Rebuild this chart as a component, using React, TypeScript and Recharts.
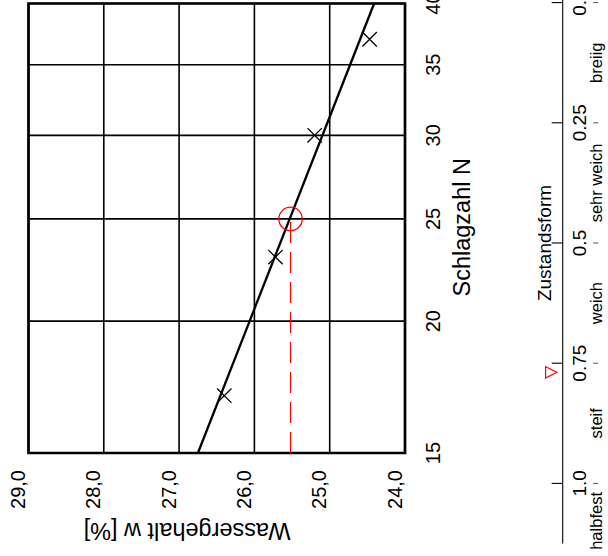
import React from 'react';
import { ComposedChart, Scatter, Line, XAxis, YAxis, CartesianGrid, ReferenceArea, Label } from 'recharts';

// Main diagram (Fließgrenze): Schlagzahl N vs Wassergehalt w
const nTicks = [15, 20, 25, 30, 35, 40];
const wTicks = [24, 25, 26, 27, 28, 29];
const wTickLabels = ['24,0', '25,0', '26,0', '27,0', '28,0', '29,0'];
const measuredN = [17, 23, 30, 37];
const measuredW = [26.4, 25.72, 25.2, 24.47];
const fitN = [15, 40];
const fitW = [26.75, 24.41];
const liquidLimitN = 25;
const liquidLimitW = 25.52;
const dropN = [15, 25];

// Zustandsform axis
const icTicks = [0, 0.25, 0.5, 0.75, 1.0];
const icTickLabels = ['0.0', '0.25', '0.5', '0.75', '1.0'];
const stateNames = ['breiig', 'sehr weich', 'weich', 'steif', 'halbfest'];
const statePositions = [0.125, 0.375, 0.625, 0.875, 1.078];
const consistencyIndex = 0.769;

const FONT = 'Liberation Sans, Arial, Helvetica, sans-serif';

const measuredData = measuredN.map((N, i) => ({ N, w: measuredW[i] }));
const fitData = fitN.map((N, i) => ({ N, w: fitW[i] }));
const llData = [{ N: liquidLimitN, w: liquidLimitW }];
const dropData = dropN.map((N) => ({ N, w: liquidLimitW }));
const icData = [{ ic: consistencyIndex, y: 0 }];

const NTick = (props: any) => {
  const { x, y, payload } = props;
  return (
    <text x={x} y={y + 35} textAnchor="middle" fontSize={20} fontFamily={FONT} fill="#000">
      {payload.value}
    </text>
  );
};

const WTick = (props: any) => {
  const { x, y, payload } = props;
  const idx = wTicks.indexOf(payload.value);
  return (
    <text x={x - 17} y={y - 3.5} textAnchor="end" fontSize={20} fontFamily={FONT} fill="#000">
      {idx >= 0 ? wTickLabels[idx] : payload.value}
    </text>
  );
};

const XTitle = (props: any) => {
  const vb = props.viewBox || { x: 0, y: 0, width: 0, height: 0 };
  const cx = vb.x + vb.width / 2 + 1;
  return (
    <text x={cx} y={vb.y + 65} textAnchor="middle" fontSize={23.5} fontFamily={FONT} fill="#000">
      Schlagzahl N
    </text>
  );
};

const YTitle = (props: any) => {
  const vb = props.viewBox || { x: 0, y: 0, width: 0, height: 0 };
  const tx = vb.x - 10;
  const ty = vb.y + 158.5;
  return (
    <text
      x={tx}
      y={ty}
      textAnchor="middle"
      fontSize={23.5}
      fontFamily={FONT}
      fill="#000"
      transform={`rotate(-90, ${tx}, ${ty})`}
    >
      Wassergehalt w [%]
    </text>
  );
};

const Cross = (props: any) => {
  const { cx, cy } = props;
  const s = 7.2;
  return (
    <path
      d={`M${cx - s},${cy - s}L${cx + s},${cy + s}M${cx - s},${cy + s}L${cx + s},${cy - s}`}
      stroke="#000"
      strokeWidth={1.3}
      fill="none"
    />
  );
};

const RedCircle = (props: any) => {
  const { cx, cy } = props;
  return <circle cx={cx} cy={cy} r={11.7} stroke="#ff0000" strokeWidth={1.3} fill="none" />;
};

const Triangle = (props: any) => {
  const { cx, cy } = props;
  const h = 5.7;
  return (
    <path
      d={`M${cx - h},${cy - h}L${cx + h},${cy - h}L${cx},${cy + h}Z`}
      stroke="#ff0000"
      strokeWidth={1.2}
      fill="none"
    />
  );
};

const IcTick = (props: any) => {
  const { x, y, payload } = props;
  const idx = icTicks.indexOf(payload.value);
  return (
    <g>
      <line x1={x} y1={y} x2={x} y2={y - 11} stroke="#000" strokeWidth={1.1} />
      <text x={x} y={y + 23.3} textAnchor="middle" fontSize={19} fontFamily={FONT} fill="#000">
        {idx >= 0 ? icTickLabels[idx] : payload.value}
      </text>
      <line x1={x} y1={y + 30.5} x2={x} y2={y + 35.5} stroke="#555" strokeWidth={1} />
    </g>
  );
};

const CatTick = (props: any) => {
  const { x, y, payload } = props;
  const idx = statePositions.indexOf(payload.value);
  return (
    <text x={x} y={y + 62} textAnchor="middle" fontSize={16.5} fontFamily={FONT} fill="#000">
      {idx >= 0 ? stateNames[idx] : ''}
    </text>
  );
};

const ZTitle = (props: any) => {
  const vb = props.viewBox || { x: 0, y: 0, width: 0, height: 0 };
  // centre of the 0..1 range on the reversed domain [-0.1, 1.125]
  const cx = vb.x + (vb.width * (1.125 - 0.5)) / 1.225;
  return (
    <text x={cx} y={vb.y - 11.7} textAnchor="middle" fontSize={19} fontFamily={FONT} fill="#000">
      Zustandsform
    </text>
  );
};

export default function App() {
  return (
    <div style={{ position: 'absolute', left: 0, top: 0, width: 608, height: 556, overflow: 'hidden', background: '#fff' }}>
      <div
        style={{
          position: 'absolute',
          left: 0,
          top: 0,
          width: 556,
          height: 608,
          transformOrigin: '0 0',
          transform: 'translate(0px, 556px) rotate(-90deg)',
        }}
      >
        <div style={{ position: 'absolute', left: 0, top: 0 }}>
          <ComposedChart width={556} height={608} margin={{ top: 28.5, right: 3.5, bottom: 143, left: 43 }}>
            <CartesianGrid stroke="#000" strokeWidth={1.6} fill="none" />
            <XAxis
              dataKey="N"
              type="number"
              scale="log"
              domain={[15, 40]}
              ticks={nTicks}
              allowDataOverflow
              interval={0}
              axisLine={false}
              tickLine={false}
              tickSize={0}
              tickMargin={0}
              height={60}
              tick={NTick}
            >
              <Label content={XTitle} />
            </XAxis>
            <YAxis
              dataKey="w"
              type="number"
              domain={[24, 29]}
              ticks={wTicks}
              allowDataOverflow
              interval={0}
              axisLine={false}
              tickLine={false}
              tickSize={0}
              tickMargin={0}
              width={60}
              tick={WTick}
            >
              <Label content={YTitle} />
            </YAxis>
            <Line
              data={dropData}
              dataKey="w"
              stroke="#ff0000"
              strokeWidth={1.2}
              strokeDasharray="21 9"
              dot={false}
              activeDot={false}
              isAnimationActive={false}
            />
            <Line
              data={fitData}
              dataKey="w"
              stroke="#000"
              strokeWidth={2.3}
              dot={false}
              activeDot={false}
              isAnimationActive={false}
            />
            <Scatter data={measuredData} dataKey="w" shape={Cross} isAnimationActive={false} />
            <Scatter data={llData} dataKey="w" shape={RedCircle} isAnimationActive={false} />
            <ReferenceArea x1={15} x2={40} y1={24} y2={29} fill="none" fillOpacity={0} stroke="#000" strokeWidth={2.7} />
          </ComposedChart>
        </div>
        <div style={{ position: 'absolute', left: 0, top: 530 }}>
          <ComposedChart width={601.5} height={78} margin={{ top: 0, right: 0, bottom: 0, left: 12.5 }}>
            <XAxis
              xAxisId="cat"
              orientation="top"
              dataKey="ic"
              type="number"
              domain={[-0.1, 1.125]}
              reversed
              ticks={statePositions}
              allowDataOverflow
              interval={0}
              height={9.9}
              axisLine={false}
              tickLine={false}
              tickSize={0}
              tickMargin={0}
              tick={CatTick}
            />
            <XAxis
              xAxisId="ic"
              dataKey="ic"
              type="number"
              domain={[-0.1, 1.125]}
              reversed
              ticks={icTicks}
              allowDataOverflow
              interval={0}
              height={45.3}
              axisLine={{ stroke: '#000', strokeWidth: 1.1 }}
              tickLine={false}
              tickSize={0}
              tickMargin={0}
              tick={IcTick}
            >
              <Label content={ZTitle} />
            </XAxis>
            <YAxis yAxisId="y" dataKey="y" type="number" domain={[-1, 1]} hide />
            <Scatter xAxisId="ic" yAxisId="y" data={icData} dataKey="y" shape={Triangle} isAnimationActive={false} />
          </ComposedChart>
        </div>
      </div>
    </div>
  );
}
